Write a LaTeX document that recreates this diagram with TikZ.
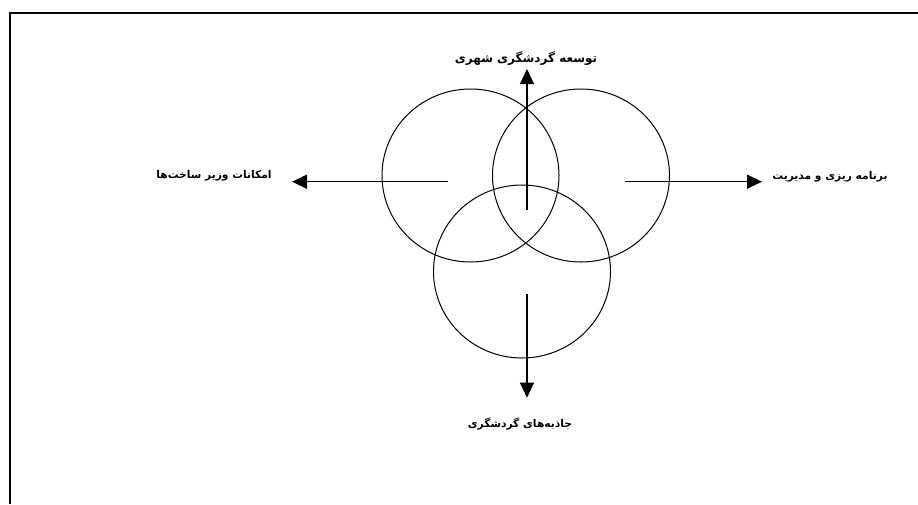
\documentclass[tikz,border=0pt]{standalone}
\usepackage{fontspec}
\usetikzlibrary{arrows.meta,shapes.geometric}
\newfontfamily\arabicfont[Script=Arabic]{DejaVu Sans}
\TeXXeTstate=1

\begin{document}
\begin{tikzpicture}[x=1pt,y=-1pt,
  ring/.style={draw, ellipse, line width=1pt, minimum width=177pt, minimum height=173pt, inner sep=0pt},
  pointer/.style={line width=1.3pt, -{Triangle[length=15pt,width=14pt]}},
  caption/.style={font=\arabicfont\bfseries\fontsize{10.7}{13}\selectfont, inner sep=0pt}]
  \useasboundingbox (0,0) rectangle (918,504);
  \draw[line width=2pt] (10,504) -- (10,13) -- (918,13);

  % three overlapping rings
  \node[ring] (infra) at (470.5,175.5) {};
  \node[ring] (plan) at (581,175.5) {};
  \node[ring] (attr) at (522,271.5) {};

  % arrow ends
  \coordinate (upfrom) at (527,209.5);
  \coordinate (upto) at (527,69);
  \coordinate (leftfrom) at (448,181.7);
  \coordinate (leftto) at (292,181.7);
  \coordinate (rightfrom) at (625,181.7);
  \coordinate (rightto) at (762,181.7);
  \coordinate (downfrom) at (527,293.6);
  \coordinate (downto) at (527,397.7);

  \draw[pointer] (upfrom) -- (upto);
  \draw[pointer] (leftfrom) -- (leftto);
  \draw[pointer] (rightfrom) -- (rightto);
  \draw[pointer] (downfrom) -- (downto);

  % labels
  \node[caption, font=\arabicfont\bfseries\fontsize{12}{14}\selectfont] (growth) at (526,59) {\beginR توسعه گردشگری شهری\endR};
  \node[caption] (facility) at (214,176) {\beginR امکانات وزیر ساخت‌ها\endR};
  \node[caption] (manage) at (830,177) {\beginR برنامه ریزی و مدیریت\endR};
  \node[caption] (sights) at (520,424) {\beginR جاذبه‌های گردشگری\endR};
\end{tikzpicture}
\end{document}
